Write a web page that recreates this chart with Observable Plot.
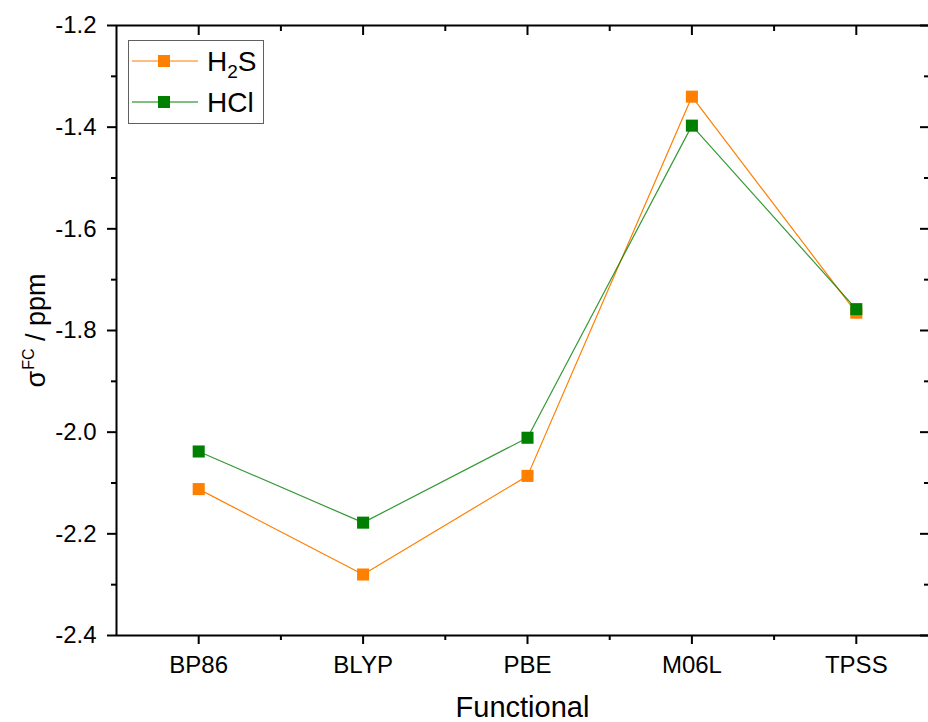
<!DOCTYPE html>
<html>
<head>
<meta charset="utf-8">
<script src="https://cdn.jsdelivr.net/npm/d3@7"></script>
<script src="https://cdn.jsdelivr.net/npm/@observablehq/plot@0.6"></script>
<style>
  body { margin: 0; background: #fff; }
  #wrap { position: relative; width: 928px; height: 722px; overflow: hidden; background: #fff; }
  #wrap svg.chart { display: block; }
  #legend { position: absolute; left: 128px; top: 40px; width: 134px; height: 82px; border: 1px solid #606060; background: #fff; }
  #legend svg { display: block; }
</style>
</head>
<body>
<div id="wrap"></div>
<script>
// ---- data ----
const categories = ["BP86", "BLYP", "PBE", "M06L", "TPSS"];
const h2sValues = [-2.112, -2.280, -2.086, -1.340, -1.765];
const hclValues = [-2.038, -2.178, -2.011, -1.397, -1.758];
const seriesNames = ["H2S", "HCl"];
const yMajorTicks = [-2.4, -2.2, -2.0, -1.8, -1.6, -1.4, -1.2];
const yMinorTicks = [-2.3, -2.1, -1.9, -1.7, -1.5, -1.3];
const xMajorTicks = [1, 2, 3, 4, 5];
const xMinorTicks = [1.5, 2.5, 3.5, 4.5];
const xTitle = "Functional";
const yTitle = "σFC / ppm";

// ---- styles ----
const colors = { H2S: "#ff7f00", HCl: "#008000" };
const font = "'Liberation Sans', Arial, Helvetica, sans-serif";

const h2s = categories.map((c, i) => ({ series: "H2S", i: i + 1, value: h2sValues[i] }));
const hcl = categories.map((c, i) => ({ series: "HCl", i: i + 1, value: hclValues[i] }));

const blank = () => "";
const major = 9, minor = 5;

const chart = Plot.plot({
  width: 928,
  height: 722,
  marginTop: 25,
  marginBottom: 87,
  marginLeft: 116,
  marginRight: 0,
  style: { fontFamily: font, color: "black", background: "white" },
  x: { type: "linear", domain: [0.5, 5.5], range: [116, 938] },
  y: { type: "linear", domain: [-2.4, -1.2] },
  marks: [
    Plot.line(h2s, { x: "i", y: "value", stroke: colors.H2S, strokeWidth: 1.2 }),
    Plot.line(hcl, { x: "i", y: "value", stroke: colors.HCl, strokeWidth: 1.2, strokeOpacity: 0.8 }),
    Plot.dot(h2s, { x: "i", y: "value", symbol: "square", r: 6.8, fill: colors.H2S, stroke: "none" }),
    Plot.dot(hcl, { x: "i", y: "value", symbol: "square", r: 6.8, fill: colors.HCl, stroke: "none" }),
    // frame lines
    Plot.ruleY([-2.4, -1.2], { stroke: "black", strokeWidth: 2 }),
    Plot.ruleX([0.5, 5.5], { stroke: "black", strokeWidth: 2 }),
    // bottom axis
    Plot.axisX(xMajorTicks, { anchor: "bottom", tickSize: major, tickPadding: 11, tickFormat: (i) => categories[i - 1], fontSize: 24, strokeWidth: 2, label: null }),
    Plot.axisX(xMinorTicks, { anchor: "bottom", tickSize: minor, tickFormat: blank, strokeWidth: 2, label: null }),
    // top axis (inward)
    Plot.axisX(xMajorTicks, { anchor: "top", tickSize: -major, tickFormat: blank, strokeWidth: 2, label: null }),
    Plot.axisX(xMinorTicks, { anchor: "top", tickSize: -minor, tickFormat: blank, strokeWidth: 2, label: null }),
    // left axis
    Plot.axisY(yMajorTicks, { anchor: "left", tickSize: major, tickPadding: 11, tickFormat: (d) => d.toFixed(1), fontSize: 24, strokeWidth: 2, label: null }),
    Plot.axisY(yMinorTicks, { anchor: "left", tickSize: minor, tickFormat: blank, strokeWidth: 2, label: null }),
    // right axis (inward)
    Plot.axisY(yMajorTicks, { anchor: "right", tickSize: -major, tickFormat: blank, strokeWidth: 2, label: null }),
    Plot.axisY(yMinorTicks, { anchor: "right", tickSize: -minor, tickFormat: blank, strokeWidth: 2, label: null }),
    // titles
    Plot.text([xTitle], { text: (d) => d, frameAnchor: "bottom", dy: 72, fontSize: 29, textAnchor: "middle", lineAnchor: "middle", fill: "black" }),
    Plot.text([yTitle], { text: (d) => d, frameAnchor: "left", dx: -80, rotate: -90, fontSize: 27, textAnchor: "middle", lineAnchor: "middle", fill: "black" })
  ]
});
chart.classList.add("chart");
document.getElementById("wrap").appendChild(chart);

// superscript in y title
d3.select(chart).selectAll("text").filter(function () { return this.textContent === yTitle; })
  .each(function () {
    const t = d3.select(this);
    t.text(null);
    t.append("tspan").text("σ");
    t.append("tspan").attr("font-size", 16).attr("dy", -11).attr("dx", 1).text("FC");
    t.append("tspan").attr("dy", 11).text(" / ppm");
  });

// legend
const legend = document.createElement("div");
legend.id = "legend";
document.getElementById("wrap").appendChild(legend);
const lsvg = d3.select(legend).append("svg").attr("width", 134).attr("height", 82)
  .style("font-family", font);
const rowY = [20, 61];
seriesNames.forEach((name, k) => {
  const y = rowY[k];
  const c = colors[name];
  lsvg.append("line").attr("x1", 3).attr("x2", 69).attr("y1", y).attr("y2", y)
    .attr("stroke", c).attr("stroke-width", 1.2);
  lsvg.append("rect").attr("x", 29).attr("y", y - 6).attr("width", 12).attr("height", 12).attr("fill", c);
  const t = lsvg.append("text").attr("x", 78).attr("y", y + 9.5).attr("font-size", 28).attr("fill", "black");
  const m = name.match(/^([A-Za-z]+?)(\d)([A-Za-z]*)$/);
  if (m) {
    t.append("tspan").text(m[1]);
    t.append("tspan").attr("font-size", 19).attr("dy", 7).text(m[2]);
    t.append("tspan").attr("dy", -7).text(m[3]);
  } else {
    t.text(name);
  }
});
</script>
</body>
</html>
